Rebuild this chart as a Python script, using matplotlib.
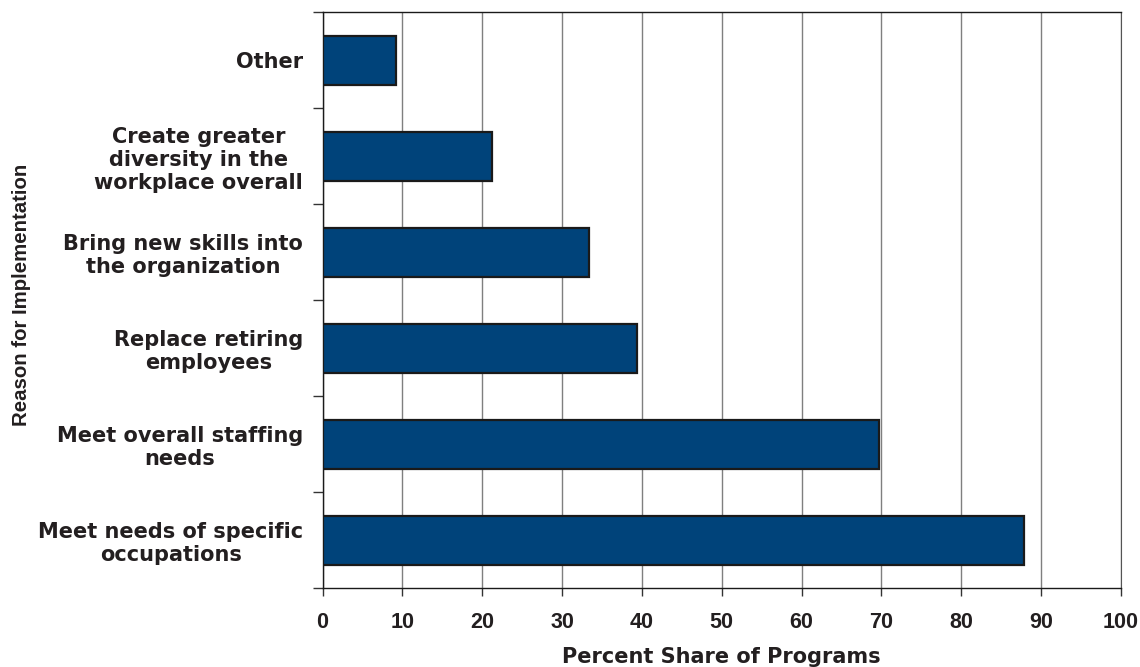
import numpy as np
import matplotlib.pyplot as plt
from matplotlib.ticker import FixedLocator

# reasons for implementation, listed bottom to top
reasons = [
    "Meet needs of specific\noccupations",
    "Meet overall staffing\nneeds",
    "Replace retiring\nemployees",
    "Bring new skills into\nthe organization",
    "Create greater\ndiversity in the\nworkplace overall",
    "Other",
]
share = [87.9, 69.7, 39.4, 33.4, 21.2, 9.2]
x_ticks = [0, 10, 20, 30, 40, 50, 60, 70, 80, 90, 100]

bar_color = "#00437a"
text_color = "#231f20"
narrow = ["Liberation Sans", "DejaVu Sans"]
wide = ["DejaVu Sans"]

fig = plt.figure(figsize=(11.4, 6.67), dpi=100)
ax = fig.add_axes([0.283, 0.1184, 0.7003, 0.8632])

y = np.arange(len(reasons))
ax.barh(y, share, height=0.51, color=bar_color, edgecolor="#1a1a1a",
        linewidth=1.6, zorder=3)

ax.set_xlim(0, 100)
ax.set_ylim(-0.5, len(reasons) - 0.5)

# vertical gridlines at every 10 percent
ax.set_xticks(x_ticks)
ax.xaxis.grid(True, color="#7f7f7f", linewidth=1.0, zorder=0)
ax.set_xticklabels([str(t) for t in x_ticks], family=narrow,
                   fontweight="bold", fontsize=15.5, color=text_color)
ax.tick_params(axis="x", direction="out", length=6, width=1,
               color="#333333", pad=11)

# category labels sit between the tick marks at the band edges
ax.set_yticks(y)
ax.set_yticklabels(reasons, family=wide, fontweight="bold", fontsize=15,
                   color=text_color, ha="right", multialignment="center",
                   linespacing=1.2)
ax.tick_params(axis="y", which="major", length=0, pad=14)
ax.yaxis.set_minor_locator(FixedLocator(np.arange(-0.5, len(reasons), 1.0)))
ax.tick_params(axis="y", which="minor", direction="out", length=7, width=1,
               color="#333333")

for side in ["left", "bottom", "top"]:
    ax.spines[side].set_color("#1a1a1a")
    ax.spines[side].set_linewidth(1.0)
ax.spines["right"].set_color("#555555")

ax.set_xlabel("Percent Share of Programs", family=wide, fontweight="bold",
              fontsize=15, color=text_color, va="center")
ax.xaxis.set_label_coords(0.5, -0.12)
ax.set_ylabel("Reason for Implementation", family=narrow, fontweight="bold",
              fontsize=14.7, color=text_color, va="center")
ax.yaxis.set_label_coords(-0.3775, 0.51)

fig.savefig("out.png", dpi=100)
